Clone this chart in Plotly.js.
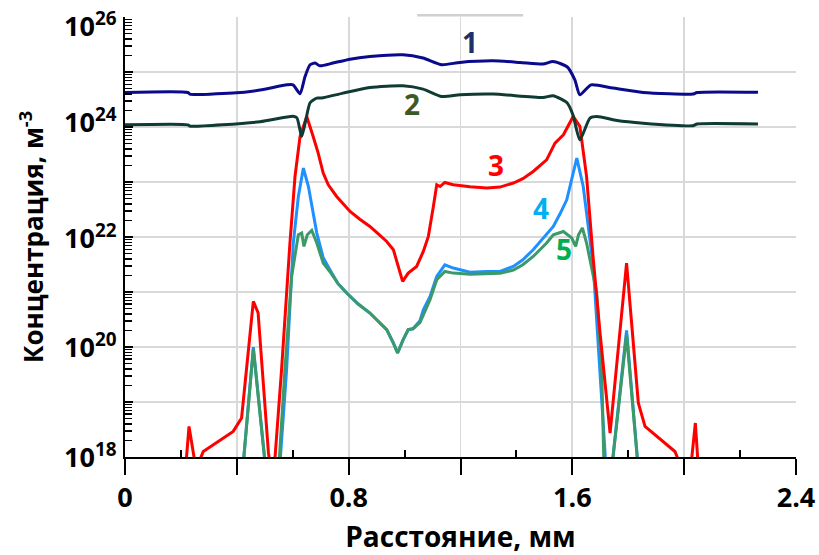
<!DOCTYPE html>
<html>
<head>
<meta charset="utf-8">
<script src="https://cdn.plot.ly/plotly-3.0.1.min.js"></script>
<style>
  html, body { margin: 0; padding: 0; background: #ffffff; }
  #chart { width: 819px; height: 555px; }
</style>
</head>
<body>
<div id="chart"></div>
<script>
// Distance along the sample, mm, and concentration, m^-3, for curves 1-5
const dist1 = [0, 0.225, 0.232, 0.386, 0.483, 0.579, 0.601, 0.626, 0.644, 0.662, 0.680, 0.697, 0.744, 0.805, 0.876, 0.994, 1.066, 1.133, 1.198, 1.316, 1.413, 1.495, 1.531, 1.581, 1.609, 1.627, 1.667, 1.745, 1.853, 2.031, 2.046, 2.264];
const conc1 = [4.26e24, 4.26e24, 3.98e24, 4.15e24, 4.71e24, 5.87e24, 5.87e24, 4.03e24, 8.3e24, 1.36e25, 1.46e25, 1.30e25, 1.46e25, 1.72e25, 1.92e25, 2.07e25, 1.80e25, 1.36e25, 1.50e25, 1.60e25, 1.50e25, 1.40e25, 1.56e25, 1.25e25, 7.24e24, 3.86e24, 5.87e24, 5.12e24, 4.26e24, 3.98e24, 4.26e24, 4.3e24];

const dist2 = [0, 0.225, 0.232, 0.483, 0.601, 0.615, 0.632, 0.647, 0.662, 0.686, 0.703, 0.780, 0.876, 0.994, 1.066, 1.133, 1.198, 1.316, 1.495, 1.531, 1.581, 1.602, 1.627, 1.663, 1.688, 1.760, 1.853, 2.031, 2.046, 2.264];
const conc2 = [1.10e24, 1.10e24, 1.04e24, 1.25e24, 1.57e24, 1.47e24, 6.75e23, 1.36e24, 2.77e24, 3.37e24, 3.37e24, 4.15e24, 5.25e24, 5.64e24, 4.91e24, 3.6e24, 3.86e24, 3.98e24, 3.45e24, 3.71e24, 2.77e24, 1.68e24, 5.87e23, 1.46e24, 1.56e24, 1.32e24, 1.18e24, 1.06e24, 1.14e24, 1.14e24];

const dist3 = [0, 0.204, 0.229, 0.254, 0.280, 0.387, 0.417, 0.459, 0.476, 0.513, 0.529, 0.560, 0.590, 0.608, 0.626, 0.650, 0.673, 0.691, 0.709, 0.727, 0.757, 0.780, 0.805, 0.840, 0.876, 0.905, 0.936, 0.960, 0.977, 0.993, 1.013, 1.043, 1.067, 1.085, 1.103, 1.115, 1.127, 1.144, 1.174, 1.234, 1.294, 1.341, 1.389, 1.423, 1.460, 1.508, 1.538, 1.568, 1.603, 1.627, 1.651, 1.675, 1.699, 1.735, 1.794, 1.836, 1.860, 1.967, 2.017, 2.040, 2.061, 2.264];
const conc3 = [1e17, 1e17, 3.6e18, 6e17, 1.26e18, 2.92e18, 5.12e18, 6.75e20, 4.2e20, 1.2e18, 3e17, 3.87e19, 7.87e21, 1.26e23, 6.75e23, 1.56e24, 6.75e23, 3.37e23, 1.46e23, 8.93e22, 5.47e22, 4.03e22, 2.92e22, 2.11e22, 1.56e22, 1.15e22, 8.3e21, 5.87e21, 2.92e21, 1.56e21, 2.21e21, 2.92e21, 5.47e21, 1.03e22, 3.6e22, 8.93e22, 8.3e22, 9.84e22, 8.93e22, 8.2e22, 7.78e22, 8.1e22, 9.6e22, 1.15e23, 1.56e23, 2.54e23, 5.12e23, 7.24e23, 1.56e24, 1.03e24, 1.26e23, 3.87e21, 1.82e20, 2.73e18, 3.37e21, 9.6e18, 3.6e18, 1.26e18, 3e17, 4.15e18, 1e17, 1e17];

const dist4 = [0, 0.408, 0.459, 0.519, 0.542, 0.578, 0.602, 0.620, 0.638, 0.656, 0.686, 0.709, 0.733, 0.762, 0.793, 0.833, 0.876, 0.905, 0.936, 0.960, 0.975, 0.995, 1.013, 1.030, 1.055, 1.067, 1.091, 1.115, 1.144, 1.174, 1.234, 1.294, 1.341, 1.389, 1.423, 1.460, 1.495, 1.532, 1.556, 1.580, 1.616, 1.639, 1.675, 1.699, 1.717, 1.724, 1.794, 1.849, 2.264];
const conc4 = [1e17, 1e17, 1.0e20, 1e17, 1e17, 3.87e19, 7.87e21, 5.47e22, 1.80e23, 8.3e22, 1.18e22, 4.2e21, 2.54e21, 1.42e21, 9.6e20, 6.12e20, 4.15e20, 3.0e20, 2.07e20, 1.18e20, 7.78e19, 1.36e20, 2.07e20, 2.15e20, 3.0e20, 4.76e20, 8.3e20, 1.92e21, 3.13e21, 2.73e21, 2.29e21, 2.37e21, 2.37e21, 2.92e21, 3.87e21, 5.87e21, 9.3e21, 1.56e22, 2.65e22, 4.76e22, 2.73e23, 8.3e22, 2.92e21, 3.87e19, 1.2e18, 1e17, 2.0e20, 1e17, 1e17];

const dist5 = [0, 0.408, 0.459, 0.519, 0.540, 0.572, 0.596, 0.620, 0.632, 0.640, 0.652, 0.668, 0.686, 0.709, 0.733, 0.762, 0.793, 0.833, 0.876, 0.905, 0.936, 0.960, 0.975, 0.995, 1.013, 1.030, 1.055, 1.091, 1.115, 1.144, 1.174, 1.234, 1.294, 1.341, 1.389, 1.423, 1.460, 1.484, 1.508, 1.532, 1.568, 1.598, 1.612, 1.622, 1.636, 1.651, 1.663, 1.687, 1.705, 1.711, 1.717, 1.724, 1.794, 1.849, 2.264];
const conc5 = [1e17, 1e17, 9.2e19, 1e17, 1e17, 3.87e19, 1.92e21, 1.10e22, 1.18e22, 6.75e21, 1.10e22, 1.32e22, 7.78e21, 3.37e21, 2.34e21, 1.42e21, 9.6e20, 6.12e20, 4.15e20, 3.0e20, 2.07e20, 1.18e20, 7.78e19, 1.36e20, 2.07e20, 2.15e20, 2.77e20, 7.24e20, 1.67e21, 2.37e21, 2.21e21, 2.1e21, 2.15e21, 2.19e21, 2.51e21, 3.13e21, 4.44e21, 5.87e21, 7.78e21, 1.10e22, 1.26e22, 9.6e21, 6.75e21, 1.10e22, 1.46e22, 7.78e21, 3.87e21, 9.84e20, 3.87e19, 2.8e18, 1e17, 1e17, 1.67e20, 1e17, 1e17];

// Axis ticks: labelled, unlabelled long ticks with grid lines, short inner ticks
const xLabelVals = [0, 0.8, 1.6, 2.4];
const xLabelText = ['0', '0.8', '1.6', '2.4'];
const xMidVals = [0.4, 1.2, 2.0];
const xShortVals = [0.2, 0.6, 1.0, 1.4, 1.8, 2.2];
const yMajorVals = [1e18, 1e20, 1e22, 1e24, 1e26];
const yMidVals = [1e19, 1e21, 1e23, 1e25];

// Decade labels on the concentration axis: exponent, text, vertical nudge in px
const yLabelExp = [18, 20, 22, 24, 26];
const yLabelText = ['10<sup>18</sup>', '10<sup>20</sup>', '10<sup>22</sup>', '10<sup>24</sup>', '10<sup>26</sup>'];
const yLabelNudge = [2, 2, 1, 7, -7];

// Curve numbers: text, x (mm), log10 of concentration, colour
const labelText = ['1', '2', '3', '4', '5'];
const labelX = [1.234, 1.028, 1.327, 1.488, 1.570];
const labelLogY = [25.551, 24.424, 23.315, 22.533, 21.775];
const labelColor = ['#1f2f6b', '#3a5a28', '#ff0000', '#00b0f0', '#00b050'];

const FONT = 'Open Sans, Noto Sans, sans-serif';
const GRID = '#d9d9d9';
const Y_RANGE = [18, 26.002];

const traces = [
  { x: dist4, y: conc4, color: '#1e90ff', shape: 'linear' },
  { x: dist5, y: conc5, color: '#3b9a68', shape: 'linear' },
  { x: dist3, y: conc3, color: '#ff0000', shape: 'linear' },
  { x: dist2, y: conc2, color: '#0f3b32', shape: 'spline' },
  { x: dist1, y: conc1, color: '#0a0a8c', shape: 'spline' }
].map(s => ({
  type: 'scatter',
  mode: 'lines',
  x: s.x,
  y: s.y,
  line: { color: s.color, width: 3, shape: s.shape, smoothing: 0.6 },
  hoverinfo: 'skip',
  showlegend: false
}));

// empty trace that carries the overlay axes with the fine ticks
traces.unshift({
  type: 'scatter', mode: 'lines', x: [], y: [],
  xaxis: 'x2', yaxis: 'y2', hoverinfo: 'skip', showlegend: false
});

const curveLabels = labelText.map((t, i) => ({
  x: labelX[i], y: labelLogY[i], xref: 'x', yref: 'y',
  text: t, showarrow: false,
  font: { family: FONT, size: 28, weight: 'bold', color: labelColor[i] }
}));

const decadeLabels = yLabelExp.map((e, i) => ({
  x: 0, xref: 'paper', xanchor: 'right', xshift: -6,
  y: e, yref: 'y', yanchor: 'middle', yshift: yLabelNudge[i],
  text: yLabelText[i], showarrow: false,
  font: { family: FONT, size: 27, weight: 'bold', color: '#000000' }
}));

const layout = {
  width: 819,
  height: 555,
  paper_bgcolor: '#ffffff',
  plot_bgcolor: '#ffffff',
  margin: { l: 125, r: 23, t: 17, b: 98 },
  showlegend: false,
  xaxis: {
    range: [0, 2.4],
    tickmode: 'array',
    tickvals: xLabelVals,
    ticktext: xLabelText,
    showgrid: true,
    gridcolor: GRID,
    gridwidth: 1.8,
    zeroline: false,
    showline: true,
    linecolor: '#000000',
    linewidth: 2,
    ticks: 'outside',
    ticklen: 16,
    tickwidth: 2,
    tickcolor: '#000000',
    tickfont: { family: FONT, size: 27, weight: 'bold', color: '#000000' },
    minor: { tickmode: 'array', tickvals: xMidVals, ticks: 'outside', ticklen: 16, tickwidth: 2, tickcolor: '#000000', showgrid: true, gridcolor: GRID, gridwidth: 1.8 },
    title: { text: 'Расстояние, мм', standoff: 16, font: { family: FONT, size: 28, weight: 'bold', color: '#000000' } }
  },
  xaxis2: {
    overlaying: 'x',
    range: [0, 2.4],
    side: 'bottom',
    tickmode: 'array',
    tickvals: xShortVals,
    showticklabels: false,
    ticks: 'inside',
    ticklen: 7,
    tickwidth: 2,
    tickcolor: '#000000',
    showgrid: false,
    zeroline: false,
    showline: false
  },
  yaxis: {
    type: 'log',
    range: Y_RANGE,
    tickmode: 'array',
    tickvals: yMajorVals,
    showticklabels: false,
    showgrid: true,
    gridcolor: GRID,
    gridwidth: 1.8,
    zeroline: false,
    showline: true,
    linecolor: '#000000',
    linewidth: 2,
    ticks: 'inside',
    ticklen: 8,
    tickwidth: 1.5,
    tickcolor: '#000000',
    minor: { tickmode: 'array', tickvals: yMidVals, ticks: 'inside', ticklen: 8, tickwidth: 1.5, tickcolor: '#000000', showgrid: true, gridcolor: GRID, gridwidth: 1.8 },
    title: { text: 'Концентрация, м<sup>-3</sup>', standoff: 72, font: { family: FONT, size: 26, weight: 'bold', color: '#000000' } }
  },
  yaxis2: {
    overlaying: 'y',
    type: 'log',
    range: Y_RANGE,
    side: 'left',
    dtick: 'D1',
    showticklabels: false,
    ticks: 'inside',
    ticklen: 7,
    tickwidth: 1.5,
    tickcolor: '#000000',
    showgrid: false,
    zeroline: false,
    showline: false
  },
  shapes: [
    { type: 'line', xref: 'x', yref: 'paper', x0: 1.045, x1: 1.424, y0: 1.004, y1: 1.004, line: { color: '#d0d0d0', width: 2.5 } }
  ],
  annotations: curveLabels.concat(decadeLabels)
};

Plotly.newPlot('chart', traces, layout, { staticPlot: true, displayModeBar: false });
</script>
</body>
</html>
